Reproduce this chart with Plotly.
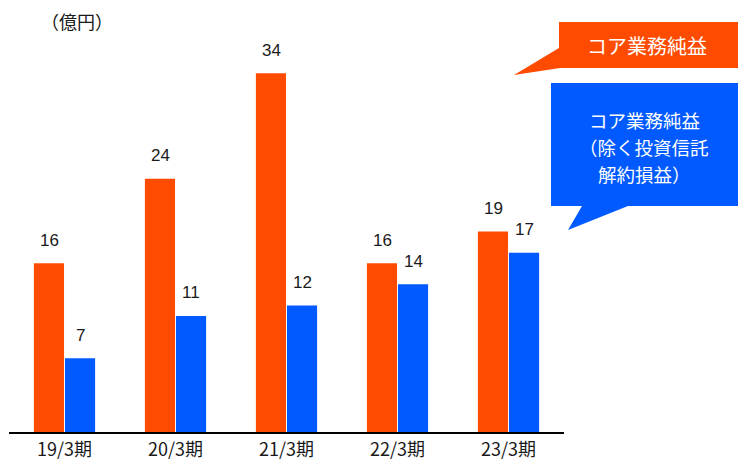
import plotly.graph_objects as go

W, H = 738, 465

# --- data ---
periods = ["19/3期", "20/3期", "21/3期", "22/3期", "23/3期"]
core_profit = [16, 24, 34, 16, 19]
core_profit_ex_trust = [7, 11, 12, 14, 17]

series_names = ["コア業務純益", "コア業務純益（除く投資信託解約損益）"]
unit_label = "（億円）"
callout_orange_text = "コア業務純益"
callout_blue_lines = ["コア業務純益", "（除く投資信託", "解約損益）"]

ORANGE = "#FF4B00"
BLUE = "#005AFF"
LABEL_FONT = "Liberation Sans, Arial, sans-serif"
CJK_FONT = "Noto Sans CJK JP, sans-serif"


def px(x):
    return x / W


def py(y):
    return 1 - y / H


def path(points):
    pts = [f"{px(x):.5f},{py(y):.5f}" for x, y in points]
    return "M " + " L ".join(pts) + " Z"


fig = go.Figure()
fig.add_trace(go.Bar(x=periods, y=core_profit, name=series_names[0],
                     marker=dict(color=ORANGE, line=dict(width=0))))
fig.add_trace(go.Bar(x=periods, y=core_profit_ex_trust, name=series_names[1],
                     marker=dict(color=BLUE, line=dict(width=0))))

# value labels above each bar
annotations = []
for i, p in enumerate(periods):
    for j, vals in enumerate([core_profit, core_profit_ex_trust]):
        annotations.append(dict(
            x=p, y=vals[i], xref="x", yref="y", text=str(vals[i]),
            showarrow=False, yanchor="middle", yshift=23,
            xshift=-15.5 if j == 0 else 15.5,
            font=dict(family=LABEL_FONT, size=17, color="#1a1a1a")))

# unit label
annotations.append(dict(x=px(77), y=py(21), xref="paper", yref="paper",
                        text=unit_label, showarrow=False,
                        xanchor="center", yanchor="middle",
                        font=dict(family=CJK_FONT, size=18, color="#1a1a1a")))

# callout texts
annotations.append(dict(x=px(647), y=py(46), xref="paper", yref="paper",
                        text=callout_orange_text, showarrow=False,
                        xanchor="center", yanchor="middle",
                        font=dict(family=CJK_FONT, size=20, color="white")))
for k, line in enumerate(callout_blue_lines):
    annotations.append(dict(x=px(644), y=py(120 + 27 * k), xref="paper", yref="paper",
                            text=line, showarrow=False,
                            xanchor="center", yanchor="middle",
                            font=dict(family=CJK_FONT, size=18.5, color="white")))

# speech-bubble callouts
shapes = [
    dict(type="path", xref="paper", yref="paper", layer="above",
         path=path([(559, 22), (738, 22), (738, 68), (560, 68), (514, 75), (559, 48)]),
         fillcolor=ORANGE, line=dict(width=0)),
    dict(type="path", xref="paper", yref="paper", layer="above",
         path=path([(551, 83), (738, 83), (738, 206), (628, 206), (568, 230), (582, 206), (551, 206)]),
         fillcolor=BLUE, line=dict(width=0)),
]

fig.update_layout(
    width=W, height=H,
    margin=dict(l=0, r=0, t=0, b=0),
    paper_bgcolor="white", plot_bgcolor="white",
    barmode="group", bargap=0.44, bargroupgap=0.03,
    showlegend=False,
    annotations=annotations,
    shapes=shapes,
    xaxis=dict(domain=[px(9), px(564)], showline=True, linecolor="black", linewidth=2,
               ticks="", showgrid=False, zeroline=False,
               tickfont=dict(family="Liberation Sans Narrow, Arial Narrow, " + CJK_FONT, size=18,
                             color="#1a1a1a")),
    yaxis=dict(domain=[1 - 432 / H, 1 - 10 / H], range=[0, 40], visible=False,
               showgrid=False, zeroline=False),
)

fig.write_html("out.html")
